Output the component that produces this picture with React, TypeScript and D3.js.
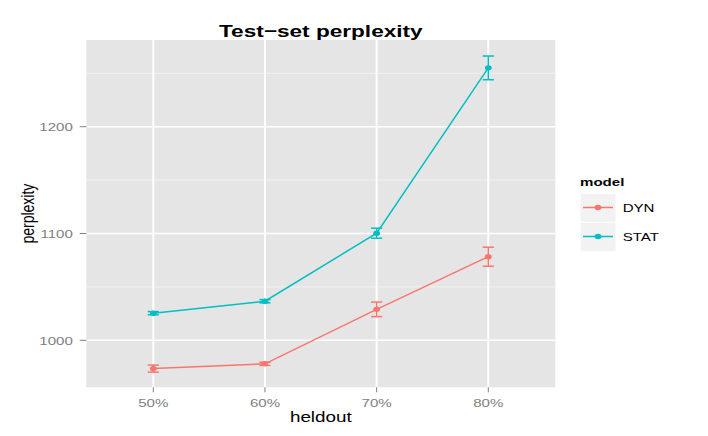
import React from "react";
import * as d3 from "d3";

const heldout = ["50%", "60%", "70%", "80%"];
const models = ["DYN", "STAT"];
const dynMean = [973.5, 978, 1029, 1078.3];
const dynErr = [3.3, 1.5, 6.8, 8.9];
const statMean = [1025.4, 1036.6, 1100.3, 1255.1];
const statErr = [1.5, 1.5, 4.7, 11.1];
const yTicks = [1000, 1100, 1200];
const yMinor = [1050, 1150, 1250];
const colors = ["#F8766D", "#00BFC4"];

const W = 708, H = 436;
const P = { left: 86.3, right: 555.3, top: 40, bottom: 387.3 };
const SX = 1.3;
const FONT = "'Liberation Sans', Arial, Helvetica, sans-serif";

export default function App() {
  const x = d3.scalePoint<string>().domain(heldout).range([P.left, P.right]).padding(0.6);
  const y = d3.scaleLinear().domain([956, 1281.2]).range([P.bottom, P.top]);
  const line = d3.line<number>().x((_, i) => x(heldout[i])!).y((d) => y(d));
  const series = [
    { name: models[0], mean: dynMean, err: dynErr, color: colors[0] },
    { name: models[1], mean: statMean, err: statErr, color: colors[1] },
  ];
  const cap = (x.step() * 0.1) / 2;
  const T = (px: number, py: number) => `translate(${px},${py}) scale(${SX},1)`;

  return (
    <svg width={W} height={H} style={{ position: "absolute", left: 0, top: 0, background: "#fff" }} fontFamily={FONT}>
      <rect x={P.left} y={P.top} width={P.right - P.left} height={P.bottom - P.top} fill="#E5E5E5" />
      {yMinor.map((v) => (
        <line key={"m" + v} x1={P.left} x2={P.right} y1={y(v)} y2={y(v)} stroke="#F2F2F2" strokeWidth={1} />
      ))}
      {yTicks.map((v) => (
        <line key={"g" + v} x1={P.left} x2={P.right} y1={y(v)} y2={y(v)} stroke="#fff" strokeWidth={1.6} />
      ))}
      {heldout.map((c) => (
        <line key={"gx" + c} x1={x(c)} x2={x(c)} y1={P.top} y2={P.bottom} stroke="#fff" strokeWidth={2} />
      ))}
      {series.map((s) => (
        <g key={s.name}>
          <path d={line(s.mean)!} fill="none" stroke={s.color} strokeWidth={1.5} />
          {s.mean.map((m, i) => {
            const cx = x(heldout[i])!;
            const y1 = y(m + s.err[i]), y2 = y(m - s.err[i]);
            return (
              <g key={i} stroke={s.color} strokeWidth={1.5}>
                <line x1={cx} x2={cx} y1={y1} y2={y2} />
                <line x1={cx - cap} x2={cx + cap} y1={y1} y2={y1} />
                <line x1={cx - cap} x2={cx + cap} y1={y2} y2={y2} />
                <ellipse cx={cx} cy={y(m)} rx={3.4} ry={2.7} fill={s.color} stroke="none" />
              </g>
            );
          })}
        </g>
      ))}
      {yTicks.map((v) => (
        <g key={"t" + v}>
          <line x1={P.left - 6.6} x2={P.left} y1={y(v)} y2={y(v)} stroke="#7F7F7F" strokeWidth={1} />
          <text transform={T(P.left - 13.5, y(v) + 4.2)} textAnchor="end" fontSize={11.6} fill="#7F7F7F">{v}</text>
        </g>
      ))}
      {heldout.map((c) => (
        <g key={"tx" + c}>
          <line x1={x(c)} x2={x(c)} y1={P.bottom} y2={P.bottom + 5} stroke="#7F7F7F" strokeWidth={1} />
          <text transform={T(x(c)!, 406.7)} textAnchor="middle" fontSize={11.6} fill="#7F7F7F">{c}</text>
        </g>
      ))}
      <text transform={T((P.left + P.right) / 2, 422.3)} textAnchor="middle" fontSize={14.5} fill="#000">heldout</text>
      <text transform={`translate(34,${(P.top + P.bottom) / 2}) rotate(-90) scale(1,${SX})`} textAnchor="middle" fontSize={14} fill="#000">perplexity</text>
      <text transform={T((P.left + P.right) / 2, 36.7)} textAnchor="middle" fontSize={17.4} fontWeight="bold" fill="#000">Test−set perplexity</text>
      <text transform={T(580, 186)} fontSize={11.6} fontWeight="bold" fill="#000">model</text>
      {series.map((s, i) => {
        const ky = 193.3 + i * 29;
        return (
          <g key={"lg" + s.name}>
            <rect x={580} y={ky} width={36} height={29} fill="#F2F2F2" stroke="#fff" strokeWidth={1} />
            <line x1={583} x2={613} y1={ky + 14.2} y2={ky + 14.2} stroke={s.color} strokeWidth={1.5} />
            <ellipse cx={598} cy={ky + 14.2} rx={3.4} ry={2.7} fill={s.color} />
            <text transform={T(622.7, ky + 19)} fontSize={11.6} fill="#000">{s.name}</text>
          </g>
        );
      })}
    </svg>
  );
}
